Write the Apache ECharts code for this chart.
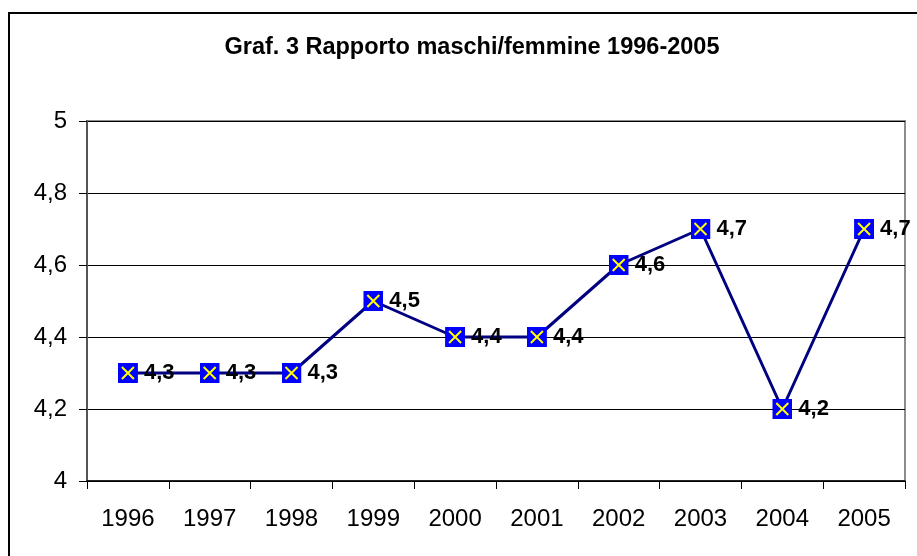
<!DOCTYPE html>
<html>
<head>
<meta charset="utf-8">
<script src="https://cdn.jsdelivr.net/npm/echarts@6/dist/echarts.min.js"></script>
<style>
  html, body { margin: 0; padding: 0; background: #fff; }
  #chart { width: 917px; height: 556px; }
</style>
</head>
<body>
<div id="chart"></div>
<script>
// data
const years = ['1996', '1997', '1998', '1999', '2000', '2001', '2002', '2003', '2004', '2005']
const ratio = [4.3, 4.3, 4.3, 4.5, 4.4, 4.4, 4.6, 4.7, 4.2, 4.7]
const titleText = 'Graf. 3 Rapporto maschi/femmine 1996-2005'

const comma = v => String(v).replace('.', ',')

// blue square with a yellow cross, like the excel marker
const markerSvg = '<svg xmlns="http://www.w3.org/2000/svg" width="20" height="20">' +
  '<rect x="0" y="0" width="20" height="20" fill="#0000ff"/>' +
  '<path d="M4,4L16,16M16,4L4,16" stroke="#ffff00" stroke-width="2"/></svg>'
const marker = 'image://data:image/svg+xml;charset=utf-8,' + encodeURIComponent(markerSvg)

let myChart = echarts.init(document.getElementById('chart'))

myChart.setOption({
  animation: false,
  backgroundColor: '#fff',
  title: {
    text: titleText,
    left: 467,
    textAlign: 'center',
    top: 31,
    textStyle: { fontFamily: 'Liberation Sans, Arial', fontSize: 23.5, fontWeight: 'bold', color: '#000' }
  },
  graphic: [{
    type: 'rect',
    shape: { x: 9, y: 13, width: 1000, height: 1000 },
    style: { fill: 'none', stroke: '#000', lineWidth: 2 },
    silent: true
  }],
  grid: {
    left: 87, top: 121, width: 818, height: 360,
    show: true, borderColor: '#8c8c8c', borderWidth: 2, backgroundColor: '#fff'
  },
  xAxis: {
    type: 'category',
    data: years,
    boundaryGap: true,
    axisLine: { lineStyle: { color: '#000', width: 1.5 } },
    axisTick: { show: true, length: 8, inside: false, lineStyle: { color: '#000' } },
    axisLabel: { color: '#000', fontSize: 24, fontFamily: 'Liberation Sans, Arial', margin: 26 }
  },
  yAxis: {
    type: 'value',
    min: 4, max: 5, interval: 0.2,
    axisLine: { show: true, lineStyle: { color: '#555', width: 2 } },
    axisTick: { show: true, length: 8, lineStyle: { color: '#000' } },
    axisLabel: {
      color: '#000', fontSize: 24, fontFamily: 'Liberation Sans, Arial', margin: 20,
      formatter: v => comma(Math.round(v * 10) / 10)
    },
    splitLine: { lineStyle: { color: '#000', width: 1 } }
  },
  series: [{
    type: 'line',
    data: ratio,
    lineStyle: { color: '#000080', width: 3 },
    itemStyle: { color: '#0000ff' },
    symbol: marker,
    symbolSize: 20,
    showAllSymbol: true,
    z: 3,
    label: {
      show: true,
      position: 'right',
      distance: 6,
      color: '#000',
      fontSize: 22,
      fontWeight: 'bold',
      fontFamily: 'Liberation Sans, Arial',
      formatter: p => comma(p.value)
    }
  }]
})

window.onresize = function() {
  myChart.resize()
}
</script>
</body>
</html>
